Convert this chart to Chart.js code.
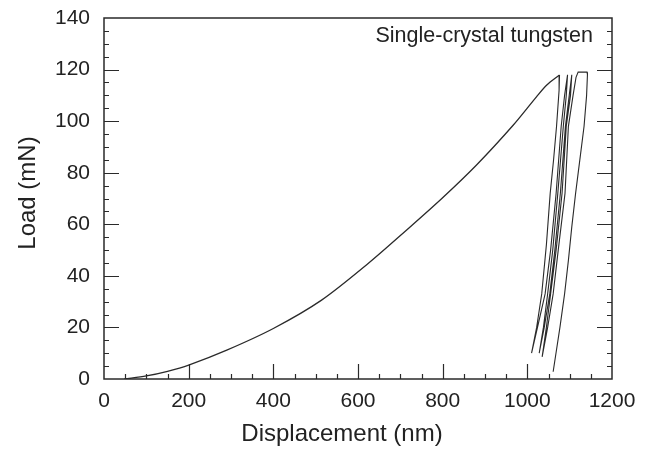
<!DOCTYPE html>
<html>
<head>
<meta charset="utf-8">
<script src="https://cdn.jsdelivr.net/npm/chart.js@4"></script>
<style>
  html, body { margin: 0; padding: 0; background: #fff; }
  #chart { display: block; }
</style>
</head>
<body>
<canvas id="chart" width="647" height="449"></canvas>
<script>
// loading branch (nm, mN)
const loadDisp  = [48, 100, 150, 200, 290, 400, 514, 624, 715, 798, 880, 967, 1022, 1046, 1076];
const loadForce = [0, 1.2, 3.0, 5.4, 11.2, 19.6, 30.6, 44.8, 57.8, 70, 83, 98.5, 109.5, 114, 117.9];

// unload / reload cycles, then hold and final unload
const cycleDisp = [
  1076, 1075, 1069, 1062, 1054, 1045, 1034, 1022, 1010,
  1024, 1042, 1055, 1068, 1080, 1088, 1095,
  1092, 1085, 1072, 1060, 1048, 1038, 1028,
  1040, 1053, 1065, 1078, 1090, 1099, 1105,
  1102, 1092, 1082, 1068, 1055, 1045, 1035,
  1048, 1061, 1073, 1089, 1097, 1108, 1115, 1120, 1141,
  1142, 1140, 1134, 1124, 1114, 1105, 1097, 1088, 1077, 1061
];
const cycleForce = [
  117.9, 112, 98, 85, 72, 52, 33, 20, 10,
  20, 33, 50, 72, 98, 110, 118,
  110, 98, 72, 50, 33, 20, 10,
  20, 33, 50, 72, 98, 110, 118,
  110, 98, 72, 50, 33, 20, 8.6,
  20, 33, 50, 72, 98, 110, 117, 119, 119,
  118, 110, 98, 85, 72, 59, 46, 33, 20, 2.8
];

const xTicks = [0, 200, 400, 600, 800, 1000, 1200];
const yTicks = [0, 20, 40, 60, 80, 100, 120, 140];

const ink = '#2a2a2a';
const fontFamily = '"Liberation Sans", Arial, Helvetica, sans-serif';

function toPoints(xs, ys) {
  return xs.map((x, i) => ({ x: x, y: ys[i] }));
}

// frame, inward ticks and the text labels
const framePlugin = {
  id: 'frame',
  afterDraw(chart) {
    const ctx = chart.ctx;
    const a = chart.chartArea;
    const xs = chart.scales.x;
    const ys = chart.scales.y;
    ctx.save();
    ctx.strokeStyle = ink;
    ctx.lineWidth = 1.5;
    ctx.strokeRect(a.left, a.top, a.right - a.left, a.bottom - a.top);

    ctx.lineWidth = 1.2;
    ctx.beginPath();
    for (let v = 50; v < 1200; v += 50) {
      const px = Math.round(xs.getPixelForValue(v)) + 0.5;
      const len = v % 200 === 0 ? 15 : 5;
      ctx.moveTo(px, a.bottom);
      ctx.lineTo(px, a.bottom - len);
    }
    for (let v = 5; v < 140; v += 5) {
      const py = Math.round(ys.getPixelForValue(v)) + 0.5;
      const len = v % 20 === 0 ? 15 : 5;
      ctx.moveTo(a.left, py);
      ctx.lineTo(a.left + len, py);
      ctx.moveTo(a.right, py);
      ctx.lineTo(a.right - len, py);
    }
    ctx.stroke();

    ctx.fillStyle = '#222';
    ctx.font = '21.5px ' + fontFamily;
    ctx.textAlign = 'right';
    ctx.textBaseline = 'middle';
    ctx.fillText('Single-crystal tungsten', 593, 36);

    ctx.font = '24px ' + fontFamily;
    ctx.textAlign = 'center';
    ctx.fillText('Displacement (nm)', 342, 434);

    ctx.translate(28, 193);
    ctx.rotate(-Math.PI / 2);
    ctx.fillText('Load (mN)', 0, 0);
    ctx.restore();
  }
};

new Chart(document.getElementById('chart'), {
  type: 'line',
  data: {
    datasets: [
      {
        data: toPoints(loadDisp, loadForce),
        borderColor: ink,
        borderWidth: 1.3,
        pointRadius: 0,
        tension: 0.3,
        fill: false
      },
      {
        data: toPoints(cycleDisp, cycleForce),
        borderColor: ink,
        borderWidth: 1.1,
        pointRadius: 0,
        tension: 0,
        fill: false
      }
    ]
  },
  options: {
    responsive: false,
    animation: false,
    layout: { padding: { left: 0, right: 35, top: 18, bottom: 0 } },
    plugins: {
      legend: { display: false },
      tooltip: { enabled: false }
    },
    scales: {
      x: {
        type: 'linear',
        min: 0,
        max: 1200,
        afterFit(scale) {
          scale.height = 70;
          scale.paddingLeft = 0;
          scale.paddingRight = 0;
        },
        afterBuildTicks(scale) { scale.ticks = xTicks.map(v => ({ value: v })); },
        grid: { display: false, drawTicks: false },
        border: { display: false },
        ticks: {
          padding: 10,
          color: '#222',
          font: { family: fontFamily, size: 21 },
          maxRotation: 0,
          autoSkip: false,
          callback: v => String(v)
        }
      },
      y: {
        type: 'linear',
        min: 0,
        max: 140,
        afterFit(scale) {
          scale.width = 104;
          scale.paddingTop = 0;
          scale.paddingBottom = 0;
        },
        afterBuildTicks(scale) { scale.ticks = yTicks.map(v => ({ value: v })); },
        grid: { display: false, drawTicks: false },
        border: { display: false },
        ticks: {
          padding: 14,
          color: '#222',
          font: { family: fontFamily, size: 21 },
          autoSkip: false,
          callback: v => String(v)
        }
      }
    }
  },
  plugins: [framePlugin]
});
</script>
</body>
</html>
